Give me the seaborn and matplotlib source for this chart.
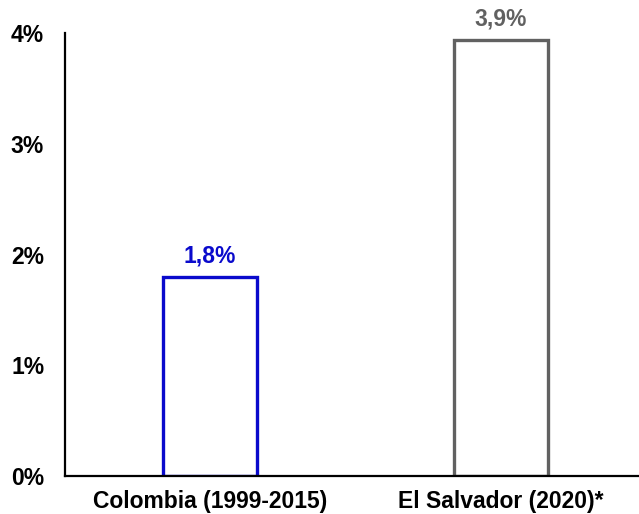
import matplotlib
matplotlib.use("Agg")
import matplotlib.pyplot as plt
import seaborn as sns
import pandas as pd

# --- DADOS ---
categories = ["Colombia (1999-2015)", "El Salvador (2020)*"]
values = [1.8, 3.94]
edge_colors = ["#0A0ACC", "#616161"]
yticks = [0, 1, 2, 3, 4]

df = pd.DataFrame({"pais": categories, "valor": values})

sns.set_style("white")
plt.rcParams["font.family"] = ["Liberation Sans", "DejaVu Sans"]

fig = plt.figure(figsize=(6.39, 5.14), dpi=100)
ax = fig.add_axes([65 / 639, 1 - 476 / 514, 1 - 65 / 639, (476 - 33) / 514])

sns.barplot(data=df, x="pais", y="valor", ax=ax, width=0.32,
            color="white", linewidth=2.4)
for patch, col in zip(ax.patches, edge_colors):
    patch.set_edgecolor(col)
    patch.set_facecolor("white")

# rótulos dos valores
for i, (v, col) in enumerate(zip(values, edge_colors)):
    ax.text(i, v + 0.08, f"{v:.1f}%".replace(".", ","), ha="center", va="bottom",
            color=col, fontsize=16.5, fontweight="bold")

ax.set_ylim(0, 4)
ax.set_xlim(-0.498, 1.474)
ax.set_yticks(yticks)
ax.set_yticklabels([f"{t}%" for t in yticks])
ax.set_xlabel("")
ax.set_ylabel("")
ax.tick_params(axis="both", length=0, labelsize=16.5, colors="#000000")
ax.tick_params(axis="y", pad=15)
ax.tick_params(axis="x", pad=10)
for lab in ax.get_xticklabels() + ax.get_yticklabels():
    lab.set_fontweight("bold")

for s in ["top", "right"]:
    ax.spines[s].set_visible(False)
for s in ["left", "bottom"]:
    ax.spines[s].set_color("black")
    ax.spines[s].set_linewidth(1.6)

fig.savefig("out.png", dpi=100)
